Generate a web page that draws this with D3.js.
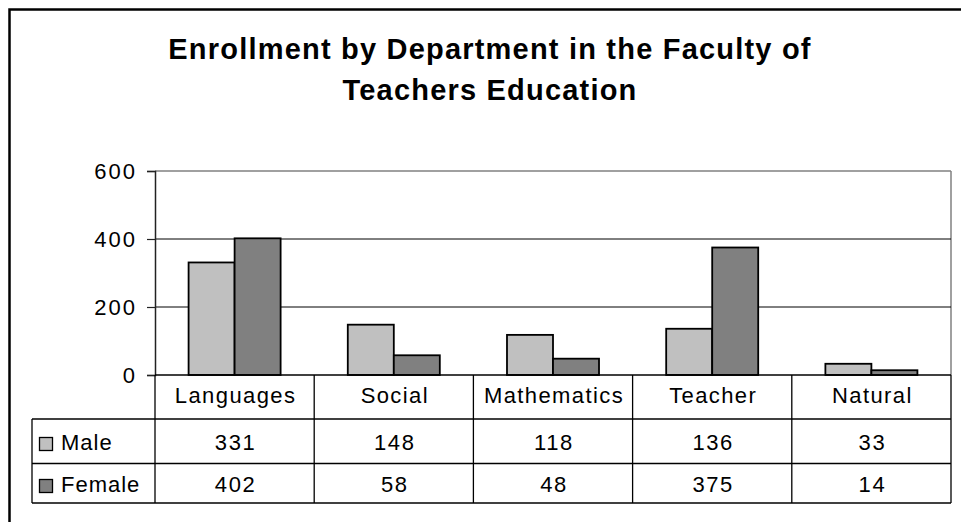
<!DOCTYPE html>
<html><head><meta charset="utf-8">
<script src="https://cdn.jsdelivr.net/npm/d3@7"></script>
<style>
html,body{margin:0;padding:0;background:#fff;}
svg{display:block;font-family:"Liberation Sans",Arial,sans-serif;}
</style></head><body>
<svg id="c" width="961" height="522"></svg>
<script>
const categories = ["Languages","Social","Mathematics","Teacher","Natural"];
const seriesNames = ["Male","Female"];
const maleValues = [331,148,118,136,33];
const femaleValues = [402,58,48,375,14];
const yTicks = [0,200,400,600];
const titleLines = ["Enrollment by Department in the Faculty of","Teachers Education"];
const seriesColors = ["#C0C0C0","#808080"];

const values = [maleValues, femaleValues];
const svg = d3.select("#c");
const W = 961, H = 522;
svg.append("rect").attr("width",W).attr("height",H).attr("fill","#fff");
// outer chart border (extends beyond viewport right/bottom)
svg.append("rect").attr("x",9.5).attr("y",9.5).attr("width",W+20).attr("height",H+20)
  .attr("fill","none").attr("stroke","#000").attr("stroke-width",2.5);

const L = 155, R = 951, T = 171, B = 375;
const x = d3.scaleBand().domain(categories).range([L,R]).paddingInner(0).paddingOuter(0);
const x1 = d3.scaleBand().domain(seriesNames).range([0,x.bandwidth()]).paddingInner(0).paddingOuter(0.73);
const y = d3.scaleLinear().domain([0,600]).range([B,T]);

// title
const title = svg.append("text").attr("text-anchor","middle").attr("font-weight","bold")
  .attr("font-size",29).attr("letter-spacing","1.2px").attr("fill","#000");
titleLines.forEach((t,i)=>{
  title.append("tspan").attr("x",490).attr("y",58.5 + i*41.7).text(t);
});

// plot border (gray top/right)
svg.append("line").attr("x1",L).attr("x2",R).attr("y1",y(600)).attr("y2",y(600)).attr("stroke","#808080").attr("stroke-width",1.5);
svg.append("line").attr("x1",R).attr("x2",R).attr("y1",T).attr("y2",B).attr("stroke","#808080").attr("stroke-width",1.5);
// gridlines
svg.append("g").selectAll("line").data(yTicks.filter(d=>d>0 && d<600)).join("line")
  .attr("x1",L).attr("x2",R).attr("y1",d=>y(d)).attr("y2",d=>y(d)).attr("stroke","#000").attr("stroke-width",1);

// bars
const groups = svg.append("g").selectAll("g").data(categories).join("g")
  .attr("transform",c=>`translate(${x(c)},0)`);
groups.selectAll("rect").data((c,ci)=>seriesNames.map((s,si)=>({s,si,v:values[si][ci]}))).join("rect")
  .attr("x",d=>x1(d.s)).attr("width",x1.bandwidth())
  .attr("y",d=>y(d.v)).attr("height",d=>y(0)-y(d.v))
  .attr("fill",d=>seriesColors[d.si]).attr("stroke","#000").attr("stroke-width",1.8);

// y axis
const yAxis = svg.append("g").attr("transform",`translate(${L},0)`)
  .call(d3.axisLeft(y).tickValues(yTicks).tickSize(8).tickPadding(12).tickFormat(d3.format("d")));
yAxis.select(".domain").attr("stroke","#222").attr("stroke-width",1.5);
yAxis.selectAll(".tick line").attr("stroke","#222").attr("stroke-width",1.2);
yAxis.selectAll(".tick text").attr("font-size",22).attr("font-family","Liberation Sans, Arial, sans-serif")
  .attr("fill","#000").attr("letter-spacing","2px").attr("dx","2px");

// x axis line
svg.append("line").attr("x1",L).attr("x2",R).attr("y1",B).attr("y2",B).attr("stroke","#000").attr("stroke-width",1.5);

// data table
const tblTop = 419, rowSep = 463.5, tblBot = 503, legL = 32;
const tg = svg.append("g").attr("stroke","#000").attr("stroke-width",1.3);
[...categories.map(c=>x(c)), R].forEach(xx=>{
  tg.append("line").attr("x1",xx).attr("x2",xx).attr("y1",B).attr("y2",tblBot);
});
tg.append("line").attr("x1",legL).attr("x2",legL).attr("y1",tblTop).attr("y2",tblBot);
[tblTop,rowSep,tblBot].forEach(yy=>{
  tg.append("line").attr("x1",legL).attr("x2",R).attr("y1",yy).attr("y2",yy);
});

// category labels
svg.append("g").selectAll("text").data(categories).join("text")
  .attr("x",c=>x(c)+x.bandwidth()/2+1).attr("y",402.5).attr("text-anchor","middle")
  .attr("font-size",22).attr("letter-spacing","1.4px").attr("fill","#000").text(c=>c);

// rows
const rowBaselines = [449.5, 491.5];
seriesNames.forEach((s,si)=>{
  const rg = svg.append("g");
  rg.append("rect").attr("x",39.5).attr("y",rowBaselines[si]-12).attr("width",13).attr("height",13)
    .attr("fill",seriesColors[si]).attr("stroke","#000").attr("stroke-width",1.3);
  rg.append("text").attr("x",61).attr("y",rowBaselines[si]).attr("font-size",22).attr("letter-spacing","1px")
    .attr("fill","#000").text(s);
  rg.selectAll("text.v").data(values[si]).join("text").attr("class","v")
    .attr("x",(v,i)=>x(categories[i])+x.bandwidth()/2+1).attr("y",rowBaselines[si])
    .attr("text-anchor","middle").attr("font-size",22).attr("letter-spacing","1.6px").attr("fill","#000")
    .text(v=>v);
});
</script></body></html>
